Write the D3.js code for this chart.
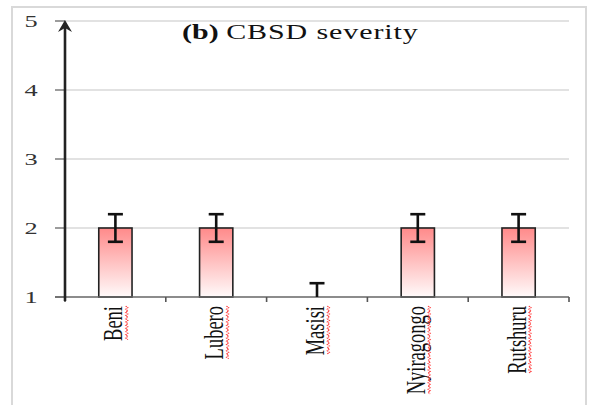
<!DOCTYPE html>
<html>
<head>
<meta charset="utf-8">
<script src="https://cdn.jsdelivr.net/npm/d3@7/dist/d3.min.js"></script>
<style>
  html, body { margin: 0; padding: 0; background: #fff; }
  svg { display: block; }
  text { font-family: "Liberation Serif", "Times New Roman", serif; }
</style>
</head>
<body>
<svg id="chart" width="589" height="405"></svg>
<script>
// Districts and mean CBSD severity score with standard error
const districts = ["Beni", "Lubero", "Masisi", "Nyiragongo", "Rutshuru"];
const severity = [2, 2, 1, 2, 2];
const severityErr = [0.2, 0.2, 0.2, 0.2, 0.2];
const yTicks = [1, 2, 3, 4, 5];
const titleBold = "(b)";
const titleRest = "CBSD severity";

const svg = d3.select("#chart");
const plot = { left: 65, right: 569, top: 21, bottom: 297 };
const stretch = 1.55; // wide type used throughout the figure

// Outer frame
svg.append("rect")
  .attr("x", 12).attr("y", 7)
  .attr("width", 574).attr("height", 420)
  .attr("fill", "#fff").attr("stroke", "#d9d9d9").attr("stroke-width", 2);

const x = d3.scaleBand().domain(districts).range([plot.left, plot.right]).padding(0);
const y = d3.scaleLinear().domain([1, 5]).range([plot.bottom, plot.top]);

// Bar gradient
const defs = svg.append("defs");
const grad = defs.append("linearGradient")
  .attr("id", "barFill").attr("x1", 0).attr("y1", 0).attr("x2", 0).attr("y2", 1);
grad.append("stop").attr("offset", "0%").attr("stop-color", "#ff8a8a");
grad.append("stop").attr("offset", "100%").attr("stop-color", "#fffafa");

// Horizontal gridlines
svg.append("g")
  .selectAll("line")
  .data(yTicks.filter(t => t > 1))
  .join("line")
  .attr("x1", plot.left).attr("x2", plot.right)
  .attr("y1", d => y(d)).attr("y2", d => y(d))
  .attr("stroke", "#d9d9d9").attr("stroke-width", 1.3);

// Y axis ticks and labels
const yAxis = svg.append("g");
yAxis.selectAll("line.tick")
  .data(yTicks)
  .join("line")
  .attr("class", "tick")
  .attr("x1", plot.left - 10).attr("x2", plot.left)
  .attr("y1", d => y(d)).attr("y2", d => y(d))
  .attr("stroke", "#666").attr("stroke-width", 1.3);
yAxis.selectAll("text")
  .data(yTicks)
  .join("text")
  .attr("transform", d => `translate(31,${y(d)}) scale(${stretch},1)`)
  .attr("text-anchor", "middle")
  .attr("dy", "0.35em")
  .attr("font-size", 17)
  .attr("fill", "#333")
  .text(d => d);

// Bars
const barW = x.bandwidth() * 0.33;
svg.append("g")
  .selectAll("rect")
  .data(districts)
  .join("rect")
  .attr("x", d => x(d) + (x.bandwidth() - barW) / 2)
  .attr("y", (d, i) => y(severity[i]))
  .attr("width", barW)
  .attr("height", (d, i) => y(1) - y(severity[i]))
  .attr("fill", "url(#barFill)")
  .attr("stroke", (d, i) => severity[i] > 1 ? "#222" : "none")
  .attr("stroke-width", 1.6);

// X axis line and boundary ticks
const xAxis = svg.append("g");
xAxis.append("line")
  .attr("x1", plot.left - 10).attr("x2", plot.right)
  .attr("y1", plot.bottom).attr("y2", plot.bottom)
  .attr("stroke", "#666").attr("stroke-width", 1.6);
const bounds = districts.map(d => x(d)).concat([x.range()[1]]);
xAxis.selectAll("line.tick")
  .data(bounds)
  .join("line")
  .attr("class", "tick")
  .attr("x1", d => d).attr("x2", d => d)
  .attr("y1", plot.bottom).attr("y2", plot.bottom + 5)
  .attr("stroke", "#555").attr("stroke-width", 1.6);

// Error bars
const capW = 15;
const eb = svg.append("g").attr("stroke", "#111").attr("stroke-width", 2.6);
districts.forEach((d, i) => {
  const cx = x(d) + x.bandwidth() / 2;
  const hi = severity[i] + severityErr[i];
  const lo = Math.max(1, severity[i] - severityErr[i]);
  eb.append("line").attr("x1", cx).attr("x2", cx).attr("y1", y(hi)).attr("y2", y(lo));
  eb.append("line").attr("x1", cx - capW / 2).attr("x2", cx + capW / 2).attr("y1", y(hi)).attr("y2", y(hi));
  if (lo > 1) {
    eb.append("line").attr("x1", cx - capW / 2).attr("x2", cx + capW / 2).attr("y1", y(lo)).attr("y2", y(lo));
  }
});

// Y axis with arrow
svg.append("line")
  .attr("x1", plot.left).attr("x2", plot.left)
  .attr("y1", plot.bottom + 4).attr("y2", plot.top + 2)
  .attr("stroke", "#222").attr("stroke-width", 2.6);
svg.append("path")
  .attr("d", `M${plot.left},${plot.top - 1} L${plot.left - 7},${plot.top + 11} L${plot.left},${plot.top + 7} L${plot.left + 7},${plot.top + 11} Z`)
  .attr("fill", "#222");

// Category labels, rotated, with a red wavy underline
const labelG = svg.append("g");
districts.forEach(d => {
  const cx = x(d) + x.bandwidth() / 2;
  const g = labelG.append("g")
    .attr("transform", `translate(${cx},306) scale(1.42,1) rotate(-90)`);
  const t = g.append("text")
    .attr("text-anchor", "end")
    .attr("y", 4.9)
    .attr("font-size", 18.5)
    .attr("fill", "#111")
    .text(d);
  const len = t.node().getComputedTextLength();
  const pts = [];
  for (let s = 0; s <= len; s += 1.6) {
    pts.push([-s, 7.2 + ((Math.round(s / 1.6) % 2) ? 1.6 : 0)]);
  }
  g.append("path")
    .attr("d", d3.line()(pts))
    .attr("fill", "none")
    .attr("stroke", "#ff3b3b")
    .attr("stroke-width", 0.9)
    .attr("stroke-dasharray", "1.2,0.6");
});

// Title
const title = svg.append("text")
  .attr("transform", `translate(182,39) scale(1.5,1)`)
  .attr("font-size", 20)
  .attr("fill", "#111");
title.append("tspan").attr("font-weight", "bold").text(titleBold + " ");
title.append("tspan").attr("letter-spacing", 0.6).text(titleRest);
</script>
</body>
</html>
